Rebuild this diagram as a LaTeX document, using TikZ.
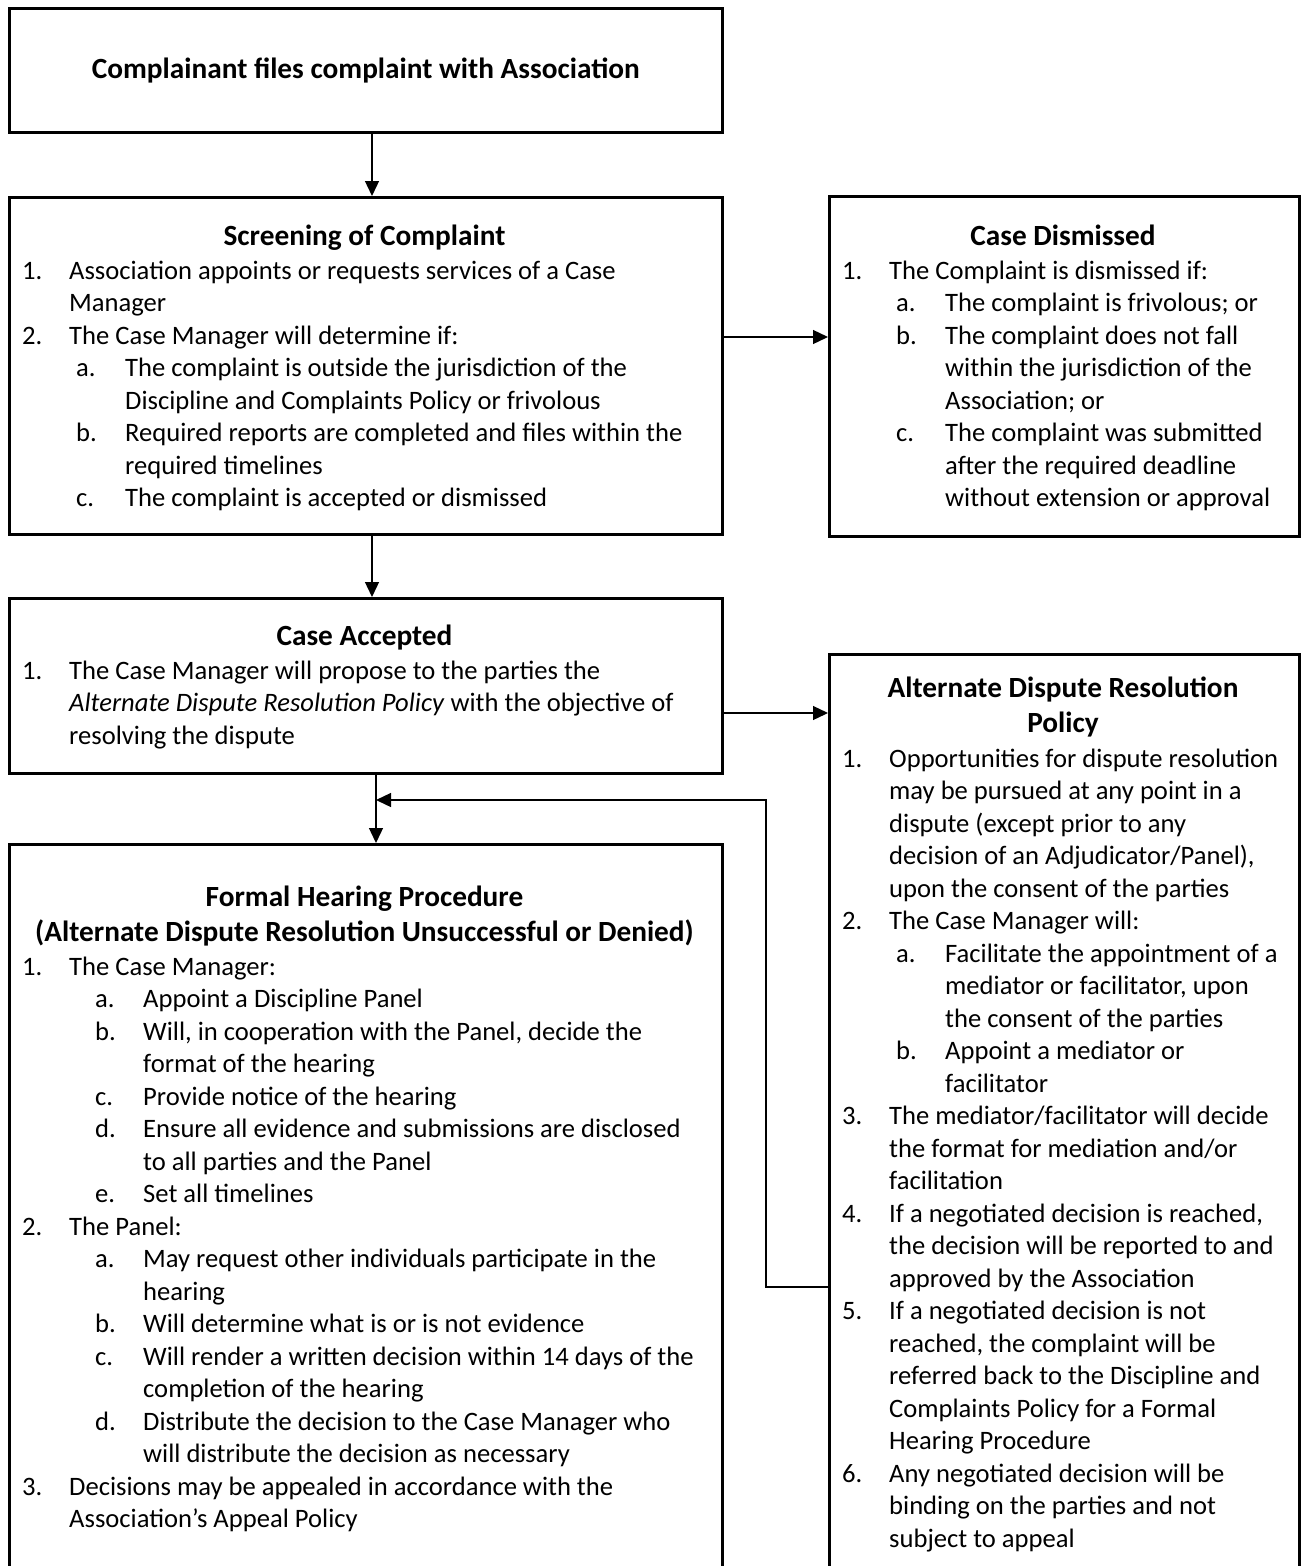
\documentclass[tikz,border=0pt]{standalone}
\usepackage{fontspec}
\setmainfont{Carlito}
\usetikzlibrary{arrows.meta}
\newcommand\Ia[2]{\makebox[47pt][l]{#1}#2}
\newcommand\Ic[1]{\hspace*{47pt}#1}
\newcommand\IIa[2]{\hspace*{54pt}\makebox[49pt][l]{#1}#2}
\newcommand\IIc[1]{\hspace*{103pt}#1}
\newcommand\IIIa[2]{\hspace*{73pt}\makebox[48pt][l]{#1}#2}
\newcommand\IIIc[1]{\hspace*{121pt}#1}
\begin{document}
\begin{tikzpicture}[x=1pt,y=-1pt,
  box/.style={draw, line width=2.6pt, rectangle, inner sep=0pt, anchor=north west},
  conn/.style={line width=1.3pt},
  arr/.style={conn, -{Triangle[length=15pt,width=14pt]}},
  txt/.style={inner sep=0pt, anchor=north west, align=left, font=\fontsize{26.6pt}{32.5pt}\selectfont},
  ttl/.style={inner sep=0pt, anchor=north, align=center, font=\bfseries\fontsize{29.3pt}{35pt}\selectfont}]
\clip (0,0) rectangle (1301,1566);
% boxes
\node[box, minimum width=713pt, minimum height=124pt] (b1) at (8,7) {};
\node[box, minimum width=713pt, minimum height=337pt] (b2) at (8,196) {};
\node[box, minimum width=470pt, minimum height=340pt] (b3) at (828,195) {};
\node[box, minimum width=713pt, minimum height=175pt] (b4) at (8,597) {};
\node[box, minimum width=470pt, minimum height=930pt] (b5) at (828,653) {};
\node[box, minimum width=713pt, minimum height=740pt] (b6) at (8,843) {};
% texts
\node[inner sep=0pt, font=\bfseries\fontsize{29.3pt}{35pt}\selectfont] (t1) at (b1.center) {Complainant files complaint with Association};

\node[ttl] (t2) at (364.5,220.5) {\strut Screening of Complaint};
\node[txt] (l2) at (22,256.25) {\strut\Ia{1.}{Association appoints or requests services of a Case}\\
\Ic{Manager}\\
\Ia{2.}{The Case Manager will determine if:}\\
\IIa{a.}{The complaint is outside the jurisdiction of the}\\
\IIc{Discipline and Complaints Policy or frivolous}\\
\IIa{b.}{Required reports are completed and files within the}\\
\IIc{required timelines}\\
\IIa{c.}{The complaint is accepted or dismissed}};

\node[ttl] (t3) at (1063,220.5) {\strut Case Dismissed};
\node[txt] (l3) at (842,256.25) {\strut\Ia{1.}{The Complaint is dismissed if:}\\
\IIa{a.}{The complaint is frivolous; or}\\
\IIa{b.}{The complaint does not fall}\\
\IIc{within the jurisdiction of the}\\
\IIc{Association; or}\\
\IIa{c.}{The complaint was submitted}\\
\IIc{after the required deadline}\\
\IIc{without extension or approval}};

\node[ttl] (t4) at (364.5,620.5) {\strut Case Accepted};
\node[txt] (l4) at (22,656.25) {\strut\Ia{1.}{The Case Manager will propose to the parties the}\\
\Ic{\textit{Alternate Dispute Resolution Policy} with the objective of}\\
\Ic{resolving the dispute}};

\node[ttl] (t5) at (1063,672.5) {\strut Alternate Dispute Resolution\\Policy};
\node[txt] (l5) at (842,744.25) {\strut\Ia{1.}{Opportunities for dispute resolution}\\
\Ic{may be pursued at any point in a}\\
\Ic{dispute (except prior to any}\\
\Ic{decision of an Adjudicator/Panel),}\\
\Ic{upon the consent of the parties}\\
\Ia{2.}{The Case Manager will:}\\
\IIa{a.}{Facilitate the appointment of a}\\
\IIc{mediator or facilitator, upon}\\
\IIc{the consent of the parties}\\
\IIa{b.}{Appoint a mediator or}\\
\IIc{facilitator}\\
\Ia{3.}{The mediator/facilitator will decide}\\
\Ic{the format for mediation and/or}\\
\Ic{facilitation}\\
\Ia{4.}{If a negotiated decision is reached,}\\
\Ic{the decision will be reported to and}\\
\Ic{approved by the Association}\\
\Ia{5.}{If a negotiated decision is not}\\
\Ic{reached, the complaint will be}\\
\Ic{referred back to the Discipline and}\\
\Ic{Complaints Policy for a Formal}\\
\Ic{Hearing Procedure}\\
\Ia{6.}{Any negotiated decision will be}\\
\Ic{binding on the parties and not}\\
\Ic{subject to appeal}};

\node[ttl] (t6) at (364.5,881.5) {\strut Formal Hearing Procedure\\(Alternate Dispute Resolution Unsuccessful or Denied)};
\node[txt] (l6) at (22,952.25) {\strut\Ia{1.}{The Case Manager:}\\
\IIIa{a.}{Appoint a Discipline Panel}\\
\IIIa{b.}{Will, in cooperation with the Panel, decide the}\\
\IIIc{format of the hearing}\\
\IIIa{c.}{Provide notice of the hearing}\\
\IIIa{d.}{Ensure all evidence and submissions are disclosed}\\
\IIIc{to all parties and the Panel}\\
\IIIa{e.}{Set all timelines}\\
\Ia{2.}{The Panel:}\\
\IIIa{a.}{May request other individuals participate in the}\\
\IIIc{hearing}\\
\IIIa{b.}{Will determine what is or is not evidence}\\
\IIIa{c.}{Will render a written decision within 14 days of the}\\
\IIIc{completion of the hearing}\\
\IIIa{d.}{Distribute the decision to the Case Manager who}\\
\IIIc{will distribute the decision as necessary}\\
\Ia{3.}{Decisions may be appealed in accordance with the}\\
\Ic{Association’s Appeal Policy}};
% connectors
\coordinate (x1) at (372,0);
\coordinate (x2) at (376,0);
\coordinate (y1) at (0,337);
\coordinate (y2) at (0,713);
\coordinate (fb1) at (766,1287);
\coordinate (fb2) at (766,800);
\draw[arr] (b1.south -| x1) -- (b2.north -| x1);
\draw[arr] (b2.south -| x1) -- (b4.north -| x1);
\draw[arr] (b2.east |- y1) -- (b3.west |- y1);
\draw[arr] (b4.east |- y2) -- (b5.west |- y2);
\draw[arr] (b4.south -| x2) -- (b6.north -| x2);
\draw[arr] (b5.west |- fb1) -- (fb1) -- (fb2) -- (x2 |- fb2);
\end{tikzpicture}
\end{document}
